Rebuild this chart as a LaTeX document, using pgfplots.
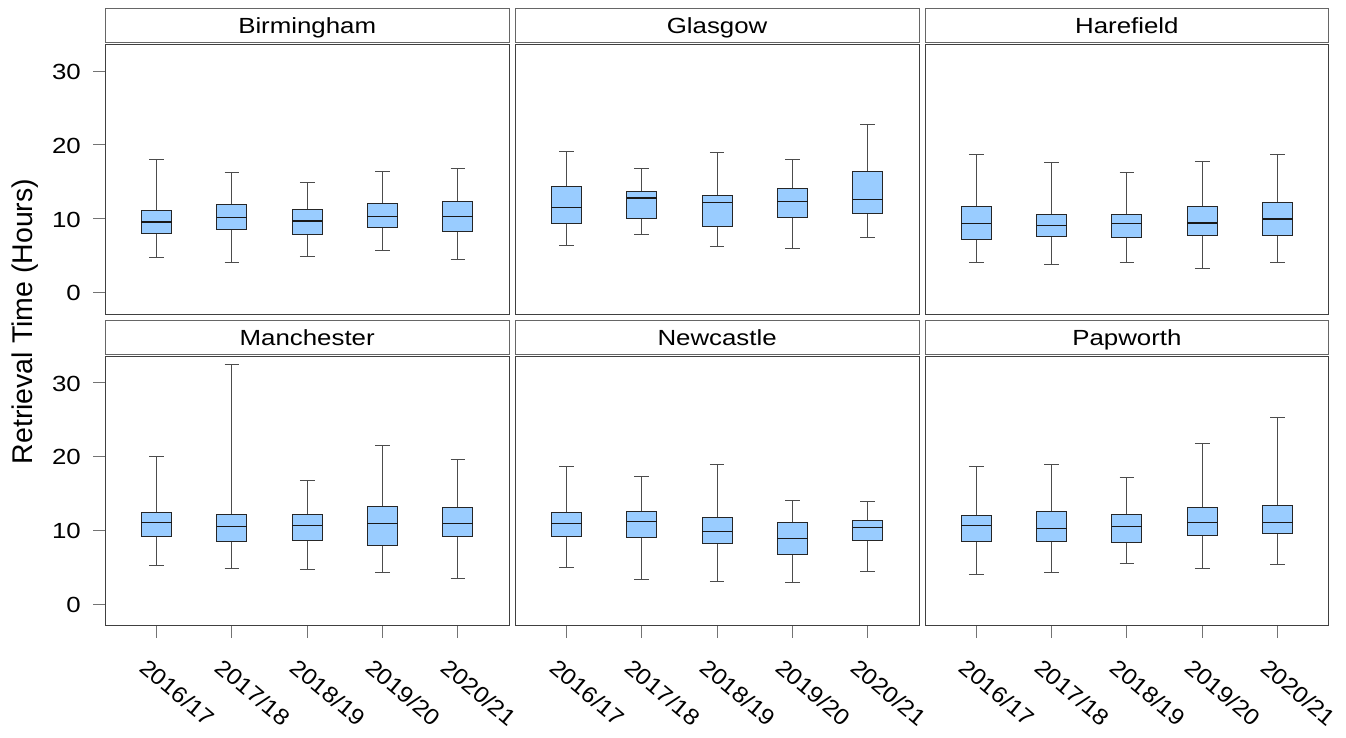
\documentclass[border=0pt]{standalone}
\usepackage{fontspec}
\setmainfont{Liberation Sans}[FakeStretch=1.18]
\newfontfamily\labfont{Liberation Sans}[FakeStretch=1.09]
\newfontfamily\ylabfont{Liberation Sans}
\usepackage{pgfplots}
\pgfplotsset{compat=1.18}
\usepgfplotslibrary{statistics}
\definecolor{boxblue}{RGB}{153,204,255}

\newcommand{\bx}[6]{\addplot[black!70, line width=1bp, boxplot prepared={draw position=#1, lower whisker=#2, lower quartile=#3, median=#4, upper quartile=#5, upper whisker=#6}] coordinates {};}
\newcommand{\strip}[1]{\node[draw=black!60, line width=0.8bp, fill=white, minimum width=403.8bp, minimum height=34bp, inner sep=0pt, text height=15.8bp, text depth=0pt, font=\fontsize{21.9bp}{26bp}\selectfont, anchor=south, yshift=1.7bp] at (rel axis cs:0.5,1) {#1};}

\pgfplotsset{
  panel/.style={
    scale only axis, width=403.8bp, height=269.3bp,
    xmin=0.32, xmax=5.68, ymin=-2.92, ymax=33.56,
    clip=false,
    axis line style={black!75, line width=0.9bp},
    tick align=outside, major tick length=12bp, tick pos=left,
    tick style={black!55, line width=0.9bp},
    ytick={0,10,20,30}, yticklabels={0,10,20,30},
    yticklabel style={font=\fontsize{21.9bp}{24bp}\selectfont, anchor=east, xshift=-9bp, yshift=-1bp},
    xtick={1,2,3,4,5},
    xticklabels={2016/17,2017/18,2018/19,2019/20,2020/21},
    xticklabel style={font=\labfont\fontsize{22.6bp}{24bp}\selectfont, anchor=center, xshift=21bp, yshift=-55bp, rotate=-40},
    boxplot/draw direction=y,
    boxplot/box extend=0.4,
    boxplot/whisker extend=0.195,
    boxplot/every box/.style={draw=black!85, fill=boxblue, line width=1bp},
    boxplot/every median/.style={draw=black!90, line width=1.1bp},
  },
  toprow/.style={xtick=\empty},
  notleft/.style={ytick=\empty},
}

\begin{document}
\begin{tikzpicture}
\useasboundingbox (0,0) rectangle (1346bp,-738bp);

% Birmingham
\begin{axis}[panel, toprow, at={(105.3bp,-314bp)}, anchor=south west]
\bx{1}{4.73}{7.92}{9.54}{11.08}{17.97}
\bx{2}{4.00}{8.51}{10.18}{11.93}{16.30}
\bx{3}{4.90}{7.84}{9.68}{11.26}{14.90}
\bx{4}{5.72}{8.78}{10.31}{12.11}{16.44}
\bx{5}{4.50}{8.24}{10.31}{12.38}{16.80}
\strip{Birmingham}
\end{axis}

% Glasgow
\begin{axis}[panel, toprow, notleft, at={(515.2bp,-314bp)}, anchor=south west]
\bx{1}{6.30}{9.32}{11.48}{14.41}{19.09}
\bx{2}{7.79}{9.95}{12.79}{13.73}{16.75}
\bx{3}{6.26}{8.96}{12.20}{13.10}{18.96}
\bx{4}{5.99}{10.13}{12.38}{14.10}{17.97}
\bx{5}{7.38}{10.67}{12.61}{16.35}{22.74}
\strip{Glasgow}
\end{axis}

% Harefield
\begin{axis}[panel, toprow, notleft, at={(925bp,-314bp)}, anchor=south west]
\bx{1}{4.09}{7.16}{9.32}{11.62}{18.73}
\bx{2}{3.82}{7.57}{9.05}{10.62}{17.60}
\bx{3}{4.09}{7.43}{9.32}{10.54}{16.26}
\bx{4}{3.19}{7.65}{9.41}{11.62}{17.79}
\bx{5}{4.09}{7.74}{9.95}{12.24}{18.69}
\strip{Harefield}
\end{axis}

% Manchester
\begin{axis}[panel, at={(105.3bp,-625.6bp)}, anchor=south west]
\bx{1}{5.18}{9.16}{11.00}{12.36}{19.93}
\bx{2}{4.78}{8.53}{10.55}{12.14}{32.48}
\bx{3}{4.74}{8.62}{10.65}{12.18}{16.69}
\bx{4}{4.24}{7.98}{10.87}{13.22}{21.52}
\bx{5}{3.43}{9.16}{10.92}{13.03}{19.53}
\strip{Manchester}
\end{axis}

% Newcastle
\begin{axis}[panel, notleft, at={(515.2bp,-625.6bp)}, anchor=south west]
\bx{1}{4.92}{9.20}{10.87}{12.40}{18.58}
\bx{2}{3.38}{8.97}{11.19}{12.49}{17.32}
\bx{3}{3.07}{8.25}{9.84}{11.73}{18.94}
\bx{4}{2.98}{6.77}{8.89}{11.00}{13.98}
\bx{5}{4.37}{8.62}{10.38}{11.27}{13.84}
\strip{Newcastle}
\end{axis}

% Papworth
\begin{axis}[panel, notleft, at={(925bp,-625.6bp)}, anchor=south west]
\bx{1}{4.02}{8.43}{10.60}{12.04}{18.58}
\bx{2}{4.29}{8.43}{10.28}{12.49}{18.94}
\bx{3}{5.55}{8.39}{10.46}{12.08}{17.09}
\bx{4}{4.87}{9.29}{11.10}{13.13}{21.74}
\bx{5}{5.37}{9.57}{11.00}{13.30}{25.21}
\strip{Papworth}
\end{axis}

\node[rotate=90, font=\ylabfont\fontsize{28.5bp}{30bp}\selectfont] at (24.7bp,-321.5bp) {Retrieval Time (Hours)};
\end{tikzpicture}
\end{document}
